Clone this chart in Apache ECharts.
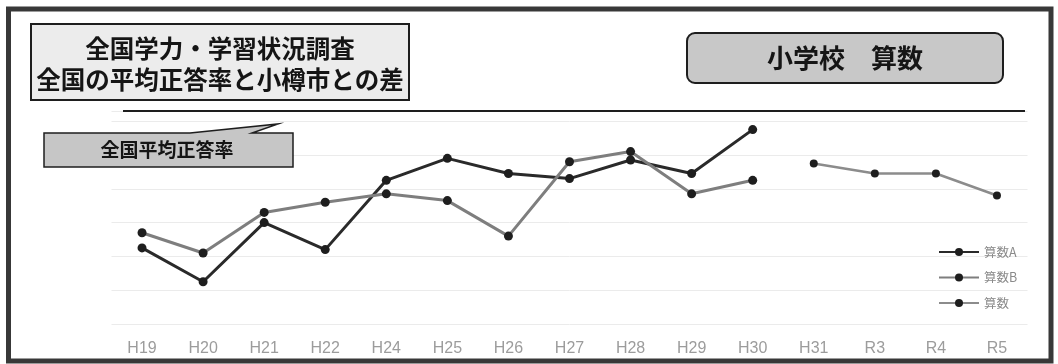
<!DOCTYPE html>
<html>
<head>
<meta charset="utf-8">
<style>
  html, body { margin: 0; padding: 0; background: #fff; }
  #chart { width: 1058px; height: 364px; }
</style>
<script src="https://cdn.jsdelivr.net/npm/echarts@6/dist/echarts.min.js"></script>
</head>
<body>
<div id="chart"></div>
<script>
// 年度
const categories = ['H19', 'H20', 'H21', 'H22', 'H24', 'H25', 'H26', 'H27', 'H28', 'H29', 'H30', 'H31', 'R3', 'R4', 'R5'];
// 全国平均正答率との差（ポイント）
const sansuA = [-8.1, -10.1, -6.6, -8.2, -4.1, -2.8, -3.7, -4.0, -2.9, -3.7, -1.1, null, null, null, null];
const sansuB = [-7.2, -8.4, -6.0, -5.4, -4.9, -5.3, -7.4, -3.0, -2.4, -4.9, -4.1, null, null, null, null];
const sansu  = [null, null, null, null, null, null, null, null, null, null, null, -3.1, -3.7, -3.7, -5.0];
const seriesNames = ['算数A', '算数B', '算数'];

const titleLines = ['全国学力・学習状況調査', '全国の平均正答率と小樽市との差'];
const subjectTitle = '小学校　算数';
const baselineLabel = '全国平均正答率';

const FONT = '"Noto Sans CJK JP", "Noto Sans", sans-serif';
const chart = echarts.init(document.getElementById('chart'), null, { renderer: 'canvas' });

const lineSeries = (name, data, color, width, size) => ({
  name, type: 'line', data, yAxisIndex: 0,
  symbol: 'circle', symbolSize: size,
  connectNulls: false,
  lineStyle: { color, width },
  itemStyle: { color: '#1e1e1e', borderWidth: 0 },
  emphasis: { disabled: true },
  animation: false
});

chart.setOption({
  backgroundColor: '#ffffff',
  animation: false,
  grid: { left: 111.5, right: 30.5, top: 111, bottom: 40 },
  legend: {
    orient: 'vertical',
    left: 933, top: 240,
    itemWidth: 40, itemHeight: 10, itemGap: 11.5,
    data: seriesNames,
    textStyle: { color: '#8a8a8a', fontSize: 12.5, fontFamily: FONT, lineHeight: 14 }
  },
  xAxis: {
    type: 'category',
    data: categories,
    boundaryGap: true,
    axisLine: { show: false },
    axisTick: { show: false },
    axisLabel: { color: '#9c9c9c', fontSize: 16, margin: 17, fontFamily: '"Liberation Sans", Arial, sans-serif' }
  },
  yAxis: [
    { type: 'value', min: -12.6, max: 0, show: false },
    {
      type: 'value', min: 0, max: 6.3, interval: 1,
      axisLine: { show: false }, axisTick: { show: false }, axisLabel: { show: false },
      splitLine: { show: true, lineStyle: { color: '#ebebeb', width: 1 } }
    }
  ],
  series: [
    lineSeries(seriesNames[0], sansuA, '#2a2a2a', 3, 9),
    lineSeries(seriesNames[1], sansuB, '#7e7e7e', 3, 9),
    lineSeries(seriesNames[2], sansu, '#8c8c8c', 2.5, 8)
  ]
});

// 全国平均（差 0）の基準線
const baseY = chart.convertToPixel({ yAxisIndex: 0 }, 0);

chart.setOption({
  graphic: [
    // 外枠
    { type: 'rect', z: 100, shape: { x: 8.5, y: 9, width: 1042.5, height: 352 },
      style: { fill: 'none', stroke: '#383838', lineWidth: 5 } },
    // 表題
    { type: 'rect', z: 100, shape: { x: 31, y: 24, width: 378, height: 76 },
      style: { fill: '#ececec', stroke: '#1e1e1e', lineWidth: 2 } },
    { type: 'text', z: 101, x: 220, y: 49,
      style: { text: titleLines[0], font: 'bold 24.5px ' + FONT, fill: '#151515', textAlign: 'center', textVerticalAlign: 'middle' } },
    { type: 'text', z: 101, x: 220, y: 80,
      style: { text: titleLines[1], font: 'bold 24.5px ' + FONT, fill: '#151515', textAlign: 'center', textVerticalAlign: 'middle' } },
    // 校種・教科
    { type: 'rect', z: 100, shape: { x: 687, y: 33, width: 316, height: 50, r: 8 },
      style: { fill: '#c8c8c8', stroke: '#1e1e1e', lineWidth: 2 } },
    { type: 'text', z: 101, x: 845, y: 58,
      style: { text: subjectTitle, font: 'bold 26px ' + FONT, fill: '#151515', textAlign: 'center', textVerticalAlign: 'middle' } },
    // 基準線
    { type: 'line', z: 100, shape: { x1: 123, y1: baseY, x2: 1025, y2: baseY },
      style: { stroke: '#1e1e1e', lineWidth: 2 } },
    // 吹き出し
    { type: 'polygon', z: 100,
      shape: { points: [[44, 133], [190, 133], [278, 124], [252, 133], [293, 133], [293, 167], [44, 167]] },
      style: { fill: '#c6c6c6', stroke: '#1e1e1e', lineWidth: 1.5 } },
    { type: 'text', z: 101, x: 167, y: 150,
      style: { text: baselineLabel, font: 'bold 19px ' + FONT, fill: '#151515', textAlign: 'center', textVerticalAlign: 'middle' } }
  ]
});
</script>
</body>
</html>
